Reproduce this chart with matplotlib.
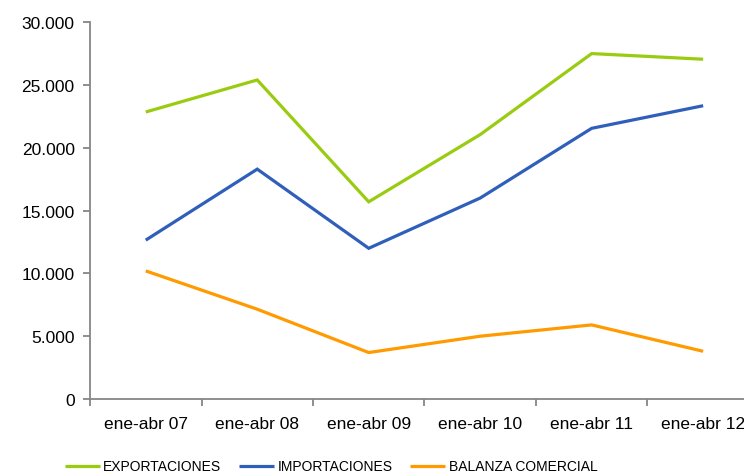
import matplotlib
matplotlib.use("Agg")
import matplotlib.pyplot as plt
from matplotlib.ticker import FuncFormatter, FixedLocator

CATEGORIES = ["ene-abr 07", "ene-abr 08", "ene-abr 09", "ene-abr 10", "ene-abr 11", "ene-abr 12"]
EXPORTACIONES = [22850, 25400, 15700, 21050, 27500, 27050]
IMPORTACIONES = [12650, 18300, 12000, 16000, 21550, 23350]
BALANZA = [10200, 7150, 3700, 5000, 5900, 3800]

COLORS = {
    "EXPORTACIONES": "#99CC11",
    "IMPORTACIONES": "#2F5FBA",
    "BALANZA COMERCIAL": "#FF9A00",
}
AXIS_GRAY = "#868686"

plt.rcParams["font.family"] = ["Liberation Sans", "DejaVu Sans"]


def thousands_dot(value, _pos):
    return f"{value:,.0f}".replace(",", ".")


def main():
    fig = plt.figure(figsize=(7.44, 4.77), dpi=100)
    ax = fig.add_axes([0.121, 0.1614, 0.899, 0.790])

    x = list(range(len(CATEGORIES)))
    series = [
        ("EXPORTACIONES", EXPORTACIONES),
        ("IMPORTACIONES", IMPORTACIONES),
        ("BALANZA COMERCIAL", BALANZA),
    ]
    for name, values in series:
        ax.plot(x, values, color=COLORS[name], lw=2.3, label=name,
                solid_capstyle="butt", solid_joinstyle="miter")

    ax.set_xlim(-0.5, len(CATEGORIES) - 0.5)
    ax.set_ylim(0, 30000)
    ax.set_yticks(range(0, 30001, 5000))
    ax.yaxis.set_major_formatter(FuncFormatter(thousands_dot))

    # category labels at centres, tick marks on the boundaries
    ax.set_xticks(x)
    ax.set_xticklabels(CATEGORIES)
    ax.xaxis.set_minor_locator(FixedLocator([i - 0.5 for i in range(len(CATEGORIES) + 1)]))
    ax.tick_params(axis="x", which="major", length=0, pad=12, labelsize=12.5)
    ax.tick_params(axis="x", which="minor", length=5, width=1.3, color=AXIS_GRAY)
    ax.tick_params(axis="y", length=5, width=1.3, color=AXIS_GRAY, pad=6, labelsize=12.5)

    for side in ("top", "right"):
        ax.spines[side].set_visible(False)
    for side in ("left", "bottom"):
        ax.spines[side].set_color(AXIS_GRAY)
        ax.spines[side].set_linewidth(1.3)

    handles, labels = ax.get_legend_handles_labels()
    fig.legend(handles, labels, loc="center", bbox_to_anchor=(0.445, 0.02),
               ncol=3, frameon=False, fontsize=10, handlelength=2.5,
               handletextpad=0.25, columnspacing=1.3, borderpad=0)

    fig.savefig("out.png", dpi=100)


if __name__ == "__main__":
    main()
